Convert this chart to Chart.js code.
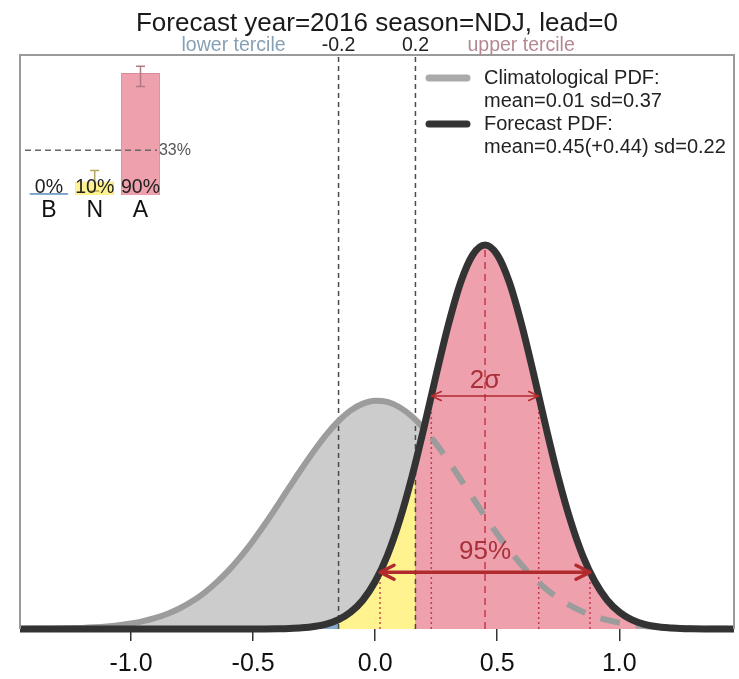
<!DOCTYPE html>
<html>
<head>
<meta charset="utf-8">
<script src="https://cdn.jsdelivr.net/npm/chart.js@4.4.1/dist/chart.umd.min.js"></script>
<style>
  html, body { margin: 0; padding: 0; background: #fff; }
  #wrap { position: relative; width: 739px; height: 679px; }
  #chart, #inset { position: absolute; left: 0; top: 0; }
</style>
</head>
<body>
<div id="wrap">
  <canvas id="chart" width="739" height="679"></canvas>
  <canvas id="inset" width="220" height="223"></canvas>
</div>
<script>
// ---- data ----
var xGrid = [-1.50, -1.45, -1.40, -1.35, -1.30, -1.25, -1.20, -1.15, -1.10, -1.05,
             -1.00, -0.95, -0.90, -0.85, -0.80, -0.75, -0.70, -0.65, -0.60, -0.55,
             -0.50, -0.45, -0.40, -0.35, -0.30, -0.25, -0.20, -0.15, -0.10, -0.05,
              0.00,  0.05,  0.10,  0.15,  0.20,  0.25,  0.30,  0.35,  0.40,  0.45,
              0.50,  0.55,  0.60,  0.65,  0.70,  0.75,  0.80,  0.85,  0.90,  0.95,
              1.00,  1.05,  1.10,  1.15,  1.20,  1.25,  1.30,  1.35,  1.40,  1.45, 1.50];

// climatological PDF (grey)
var climPdf = [0.0003, 0.0004, 0.0008, 0.0013, 0.002, 0.0033, 0.0051, 0.0079, 0.012, 0.018,
               0.026, 0.037, 0.052, 0.072, 0.098, 0.131, 0.171, 0.220, 0.277, 0.343,
               0.417, 0.498, 0.584, 0.672, 0.759, 0.842, 0.918, 0.982, 1.032, 1.064,
               1.078, 1.072, 1.047, 1.004, 0.945, 0.874, 0.793, 0.707, 0.619, 0.532,
               0.449, 0.372, 0.302, 0.242, 0.189, 0.146, 0.110, 0.082, 0.060, 0.043,
               0.030, 0.021, 0.014, 0.009, 0.006, 0.004, 0.0025, 0.0015, 0.0009, 0.0006, 0.0003];

// forecast PDF (black)
var fcstPdf = [0, 0, 0, 0, 0, 0, 0, 0, 0, 0,
               0, 0, 0, 0, 0, 0, 0, 0, 0, 0,
               0.0002, 0.0004, 0.001, 0.0024, 0.0054, 0.0115, 0.023, 0.044, 0.080, 0.137,
               0.224, 0.347, 0.512, 0.716, 0.951, 1.200, 1.437, 1.636, 1.767, 1.813,
               1.767, 1.636, 1.437, 1.200, 0.951, 0.716, 0.512, 0.347, 0.224, 0.137,
               0.080, 0.044, 0.023, 0.0115, 0.0054, 0.0024, 0.001, 0.0004, 0.0002, 0, 0];

var xTicks = [-1.0, -0.5, 0.0, 0.5, 1.0];
var tercileX = [-0.15, 0.165];
var tercileLabels = ['-0.2', '0.2'];
var tercileNames = ['lower tercile', 'upper tercile'];
var climDashFrom = 0.2;               // where the grey curve goes under the forecast

var markerX   = [0.02, 0.23, 0.45, 0.67, 0.88];
var markerTop = [0.268, 1.10, 1.813, 1.10, 0.268];
var sigmaX = [0.23, 0.67], sigmaY = 1.10, sigmaText = '2\u03c3';
var ci95X  = [0.02, 0.88], ci95Y  = 0.268, ci95Text = '95%';

var legendRows = [
  ['Climatological PDF:', 'mean=0.01 sd=0.37'],
  ['Forecast PDF:', 'mean=0.45(+0.44) sd=0.22']
];
var titleText = 'Forecast year=2016 season=NDJ, lead=0';

// inset bars
var catLabels = ['B', 'N', 'A'];
var probs  = [0, 10, 90];
var probLo = [null, 3, 80];
var probHi = [null, 18, 95];
var climProb = 33;

// ---- styles ----
var FONT = "'Liberation Sans', Arial, Helvetica, sans-serif";
var yMax = 2.71;
var blue = '#86acd0', yellow = '#fff38f', pink = '#eea1ac';
var darkRed = '#b02a2e';
Chart.defaults.font.family = FONT;
Chart.defaults.animation = false;

function pts(ys) { return xGrid.map(function (x, i) { return {x: x, y: ys[i]}; }); }
function vline(x, y0, y1) { return [{x: x, y: y0}, {x: x, y: y1}]; }

// fill colour by tercile, split at the tercile boundaries
function tercileFill(c) {
  var chart = c.chart, a = chart.chartArea;
  if (!a) return pink;
  var sx = chart.scales.x, w = a.right - a.left;
  var f1 = (sx.getPixelForValue(tercileX[0]) - a.left) / w;
  var f2 = (sx.getPixelForValue(tercileX[1]) - a.left) / w;
  var g = chart.ctx.createLinearGradient(a.left, 0, a.right, 0);
  g.addColorStop(0, blue); g.addColorStop(f1, blue);
  g.addColorStop(f1, yellow); g.addColorStop(f2, yellow);
  g.addColorStop(f2, pink); g.addColorStop(1, pink);
  return g;
}

function drawArrow(c, x1, x2, y, lw, len, half, color) {
  c.strokeStyle = color; c.lineWidth = lw; c.lineCap = 'round'; c.lineJoin = 'round';
  c.setLineDash([]);
  c.beginPath();
  c.moveTo(x1, y); c.lineTo(x2, y);
  c.moveTo(x1 + len, y - half); c.lineTo(x1, y); c.lineTo(x1 + len, y + half);
  c.moveTo(x2 - len, y - half); c.lineTo(x2, y); c.lineTo(x2 - len, y + half);
  c.stroke();
}

var curveClip = {left: 0, right: 0, top: 0, bottom: 5};

var datasets = [
  {data: pts(climPdf), fill: 'origin', backgroundColor: '#cccccc', borderWidth: 0,
   pointRadius: 0, cubicInterpolationMode: 'monotone', order: 10},
  {data: pts(fcstPdf), fill: 'origin', backgroundColor: tercileFill, borderWidth: 0,
   pointRadius: 0, cubicInterpolationMode: 'monotone', order: 9}
];
tercileX.forEach(function (x) {
  datasets.push({data: vline(x, 0, yMax), borderColor: '#4a4a4a', borderWidth: 1.5,
    borderDash: [5, 4], pointRadius: 0, fill: false, order: 8});
});
markerX.forEach(function (x, i) {
  datasets.push({data: vline(x, 0, markerTop[i]), borderColor: 'rgba(190,40,60,0.85)', borderWidth: 1.5,
    borderDash: i === 2 ? [7, 5] : [2, 3], pointRadius: 0, fill: false, order: 7});
});
datasets.push({data: pts(climPdf), borderColor: '#9c9c9c', borderWidth: 6, fill: false, pointRadius: 0,
  cubicInterpolationMode: 'monotone', clip: curveClip, order: 6,
  segment: {
    borderDash: function (s) { return s.p0.parsed.x >= climDashFrom ? [20, 16] : undefined; },
    borderDashOffset: function (s) { return s.p0.parsed.x >= climDashFrom ? 24 : undefined; }
  }});
datasets.push({data: pts(fcstPdf), borderColor: '#333333', borderWidth: 7, fill: false, pointRadius: 0,
  cubicInterpolationMode: 'monotone', clip: curveClip, order: 5});

var decor = {
  id: 'decor',
  afterDatasetsDraw: function (chart) {
    var c = chart.ctx, a = chart.chartArea, sx = chart.scales.x, sy = chart.scales.y;
    c.save();
    // frame
    c.strokeStyle = '#9a9a9a'; c.lineWidth = 2; c.setLineDash([]);
    c.beginPath();
    c.moveTo(a.left, a.bottom); c.lineTo(a.left, a.top); c.lineTo(a.right, a.top); c.lineTo(a.right, a.bottom);
    c.stroke();

    // 2 sigma and 95% arrows
    var ys = sy.getPixelForValue(sigmaY), y95 = sy.getPixelForValue(ci95Y);
    drawArrow(c, sx.getPixelForValue(sigmaX[0]), sx.getPixelForValue(sigmaX[1]), ys, 1.5, 10, 4.5, darkRed);
    drawArrow(c, sx.getPixelForValue(ci95X[0]), sx.getPixelForValue(ci95X[1]), y95, 3.5, 14, 7, darkRed);
    c.fillStyle = '#a8303a'; c.textAlign = 'center'; c.textBaseline = 'middle';
    c.font = '26px ' + FONT;
    var xm = sx.getPixelForValue(markerX[2]);
    c.fillText(sigmaText, xm, ys - 15);
    c.fillText(ci95Text, xm, y95 - 20);

    // title
    c.fillStyle = '#1a1a1a'; c.textBaseline = 'alphabetic';
    c.font = '26px ' + FONT;
    c.fillText(titleText, (a.left + a.right) / 2, 31);

    // tercile labels above the frame
    c.font = '19.5px ' + FONT;
    var tl = sx.getPixelForValue(tercileX[0]), tu = sx.getPixelForValue(tercileX[1]);
    c.fillStyle = '#222';
    c.fillText(tercileLabels[0], tl, a.top - 4);
    c.fillText(tercileLabels[1], tu, a.top - 4);
    c.textAlign = 'right'; c.fillStyle = '#87a0b5';
    c.fillText(tercileNames[0], tl - 53, a.top - 4);
    c.textAlign = 'left'; c.fillStyle = '#b58891';
    c.fillText(tercileNames[1], tu + 52, a.top - 4);

    // legend
    var lx = a.right - 305, ly = a.top + 23, step = 23;
    var lineCols = ['#aaaaaa', '#333333'];
    c.font = '20px ' + FONT; c.textBaseline = 'middle';
    legendRows.forEach(function (row, i) {
      var y = ly + i * 2 * step;
      c.strokeStyle = lineCols[i]; c.lineWidth = 7; c.lineCap = 'round';
      c.beginPath(); c.moveTo(lx, y); c.lineTo(lx + 38, y); c.stroke();
      c.fillStyle = '#222'; c.textAlign = 'left';
      c.fillText(row[0], lx + 55, y);
      c.fillText(row[1], lx + 55, y + step);
    });
    c.restore();
  }
};

new Chart(document.getElementById('chart').getContext('2d'), {
  type: 'line',
  data: {datasets: datasets},
  options: {
    responsive: false,
    devicePixelRatio: 1,
    layout: {padding: {left: 20, right: 5, top: 55, bottom: 0}},
    plugins: {legend: {display: false}, tooltip: {enabled: false}, title: {display: false}},
    elements: {line: {tension: 0}},
    scales: {
      x: {
        type: 'linear', min: -1.455, max: 1.47,
        afterBuildTicks: function (s) { s.ticks = xTicks.map(function (v) { return {value: v}; }); },
        afterFit: function (s) { s.height = 50; },
        grid: {drawOnChartArea: false, drawTicks: true, tickLength: 12, color: '#333', lineWidth: 1.5},
        border: {display: false},
        ticks: {font: {size: 25}, color: '#111', padding: 8,
                callback: function (v) { return Number(v).toFixed(1); }}
      },
      y: {display: false, min: 0, max: yMax}
    }
  },
  plugins: [decor]
});

// ---- inset tercile probability bars ----
var insetDecor = {
  id: 'insetDecor',
  afterDatasetsDraw: function (chart) {
    var c = chart.ctx, a = chart.chartArea, sx = chart.scales.x, sy = chart.scales.y;
    var errCols = ['#7f9fb8', '#b5a55a', '#b07a84'];
    c.save();
    c.lineWidth = 1.5;
    probs.forEach(function (p, i) {
      if (probLo[i] === null) return;
      var x = sx.getPixelForValue(i), y0 = sy.getPixelForValue(probLo[i]), y1 = sy.getPixelForValue(probHi[i]);
      c.strokeStyle = errCols[i];
      c.beginPath();
      c.moveTo(x, y0); c.lineTo(x, y1);
      c.moveTo(x - 4.5, y0); c.lineTo(x + 4.5, y0);
      c.moveTo(x - 4.5, y1); c.lineTo(x + 4.5, y1);
      c.stroke();
    });
    // climatological 33% line
    var yc = sy.getPixelForValue(climProb);
    var bars = chart.getDatasetMeta(0).data;
    var xEnd = bars[2].x + bars[2].width / 2 - 3;
    c.strokeStyle = '#666'; c.setLineDash([6, 4]);
    c.beginPath(); c.moveTo(a.left - 1, yc); c.lineTo(xEnd, yc); c.stroke();
    c.setLineDash([]);
    c.fillStyle = '#555'; c.font = '16px ' + FONT; c.textAlign = 'left'; c.textBaseline = 'middle';
    c.fillText(climProb + '%', xEnd + 2, yc);
    // probability labels
    c.fillStyle = '#222'; c.font = '19.5px ' + FONT; c.textAlign = 'center'; c.textBaseline = 'alphabetic';
    probs.forEach(function (p, i) {
      c.fillText(p + '%', sx.getPixelForValue(i), sy.getPixelForValue(0) - 2);
    });
    c.restore();
  }
};

new Chart(document.getElementById('inset').getContext('2d'), {
  type: 'bar',
  data: {
    labels: catLabels,
    datasets: [{
      data: probs,
      backgroundColor: [blue, yellow, pink],
      borderColor: ['#7fa3c4', '#e6d66a', '#d68c98'],
      borderWidth: 1,
      barPercentage: 0.85,
      categoryPercentage: 1,
      minBarLength: 2
    }]
  },
  options: {
    responsive: false,
    devicePixelRatio: 1,
    layout: {padding: {left: 26, right: 56.6, top: 59.4, bottom: 0}},
    plugins: {legend: {display: false}, tooltip: {enabled: false}},
    scales: {
      x: {
        grid: {display: false, drawTicks: false},
        border: {display: false},
        ticks: {font: {size: 23}, color: '#111', padding: 2},
        afterFit: function (s) { s.height = 28; }
      },
      y: {display: false, min: 0, max: 100}
    }
  },
  plugins: [insetDecor]
});
</script>
</body>
</html>
